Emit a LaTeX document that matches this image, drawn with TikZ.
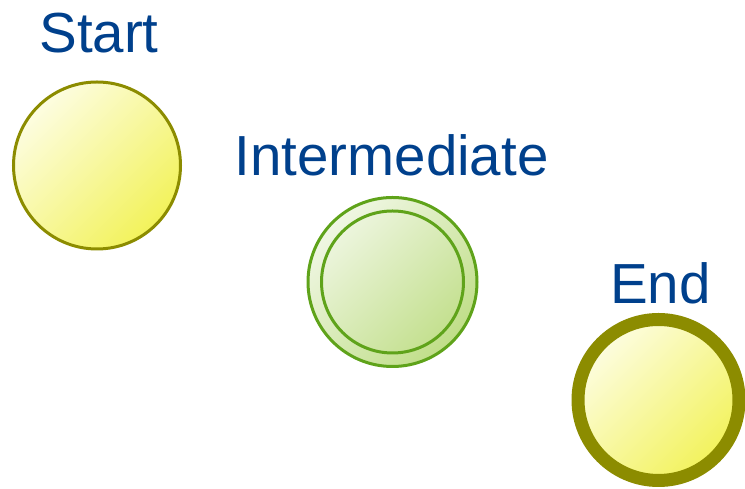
\documentclass[tikz,border=0pt]{standalone}
\usepackage{fontspec}
\setmainfont{Liberation Sans}
\definecolor{lbl}{RGB}{0,64,140}
\definecolor{olive}{RGB}{140,140,0}
\definecolor{grn}{RGB}{95,163,26}
\definecolor{ylight}{RGB}{253,253,225}
\definecolor{ydark}{RGB}{242,242,90}
\definecolor{glight}{RGB}{240,247,228}
\definecolor{gdark}{RGB}{192,222,136}
\tikzset{
  lab/.style={text=lbl, font=\fontsize{56.5}{60}\selectfont, anchor=base, inner sep=0pt},
  yfill/.style={top color=ylight, bottom color=ydark, shading angle=45},
  gfill/.style={top color=glight, bottom color=gdark, shading angle=45},
}
\begin{document}
\begin{tikzpicture}[x=1pt,y=1pt]
\useasboundingbox (0,0) rectangle (745,489);
% Start
\node[circle, minimum size=167pt, inner sep=0pt, draw=olive, line width=3pt, yfill] (start) at (97,323.5) {};
\node[lab] (startlab) at (99,436) {Start};
% Intermediate
\node[circle, minimum size=169pt, inner sep=0pt, draw=grn, line width=3pt, gfill] (inter) at (392.5,207) {};
\node[circle, minimum size=142pt, inner sep=0pt, draw=grn, line width=3pt] (interin) at (inter.center) {};
\node[lab] (interlab) at (391.5,313) {Intermediate};
% End
\node[circle, minimum size=161pt, inner sep=0pt, draw=olive, line width=13pt, yfill] (end) at (658.5,89) {};
\node[lab] (endlab) at (660.5,185) {End};
\end{tikzpicture}
\end{document}
